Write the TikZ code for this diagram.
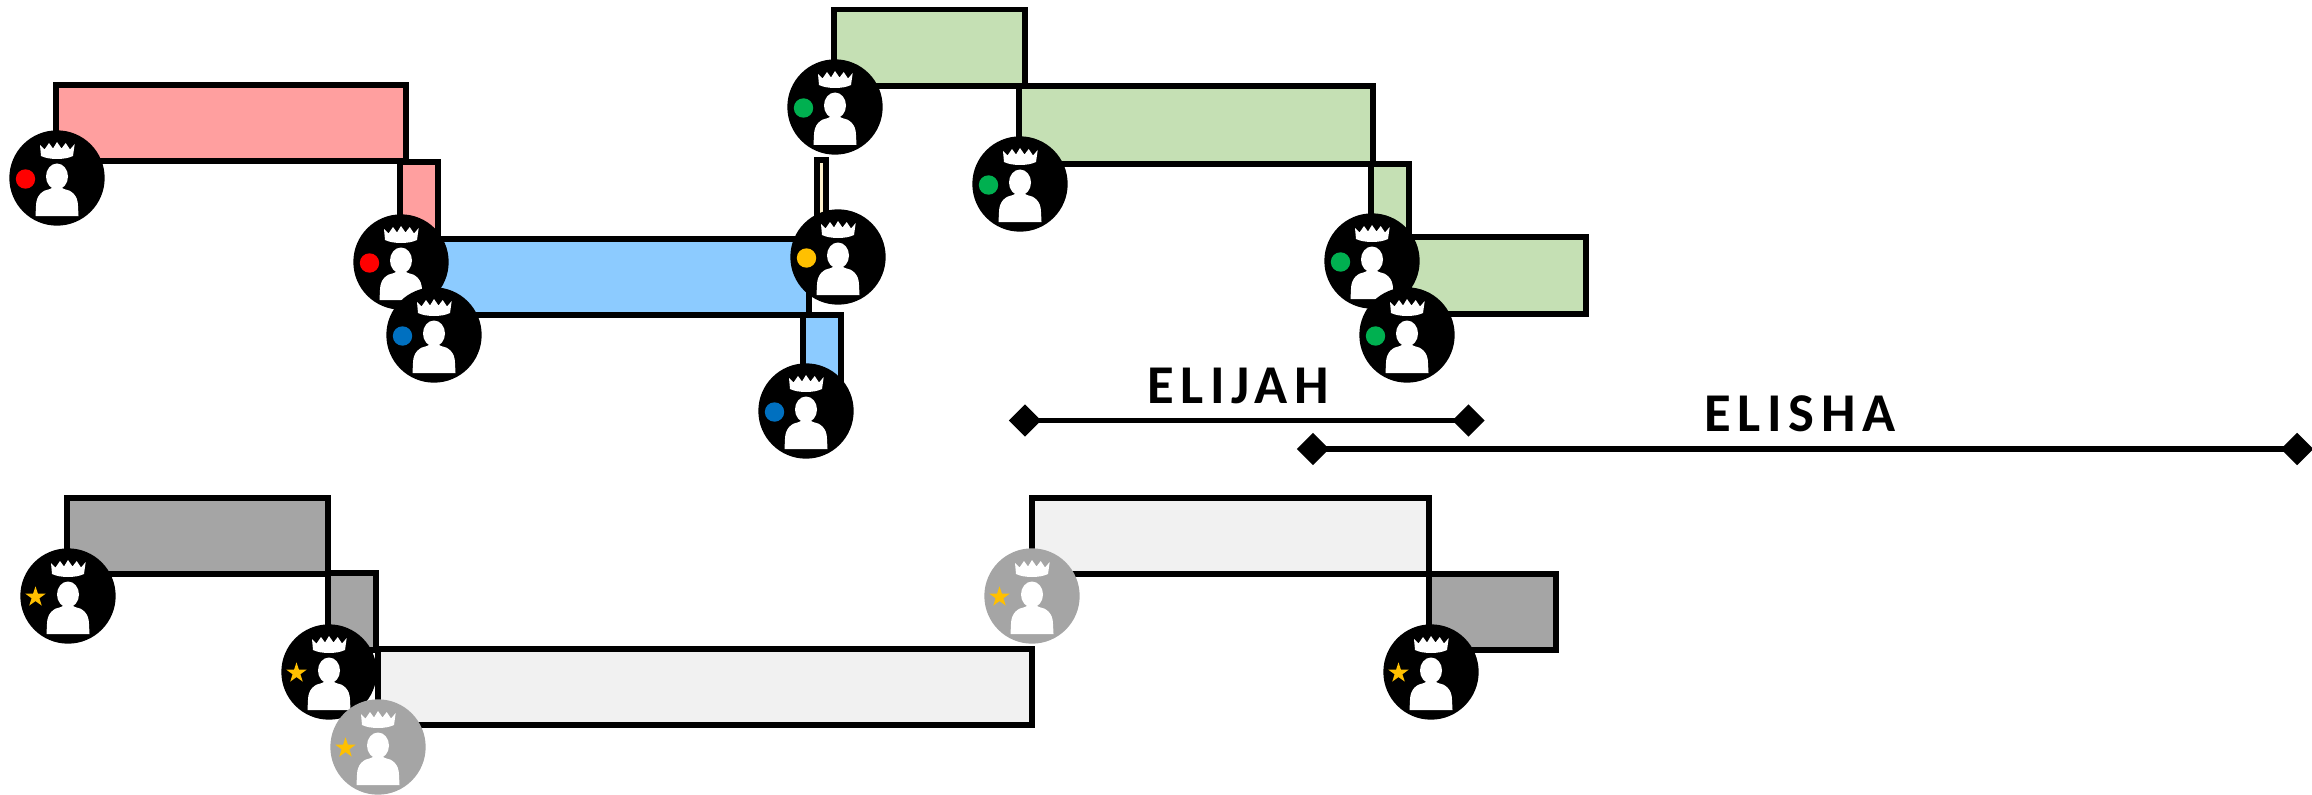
\documentclass[tikz,border=0pt]{standalone}
\usepackage{fontspec}
\setmainfont{Carlito}
\usetikzlibrary{shapes.geometric}
\definecolor{pinkfill}{HTML}{FF9F9F}
\definecolor{bluefill}{HTML}{8CCBFF}
\definecolor{greenfill}{HTML}{C5E0B4}
\definecolor{creamfill}{HTML}{FFF2CC}
\definecolor{palefill}{HTML}{F1F1F1}
\definecolor{midgrey}{HTML}{A5A5A5}
\definecolor{dotred}{HTML}{FF0000}
\definecolor{dotblue}{HTML}{0070C0}
\definecolor{dotgreen}{HTML}{00B050}
\definecolor{dotgold}{HTML}{FFC000}
\tikzset{
  reign/.style={draw=black,line width=4.4pt,miter limit=10},
  kingdisc/.style={circle,inner sep=0pt,minimum size=71.5pt,draw=none},
  enddiamond/.style={diamond,aspect=1,fill=black,inner sep=0pt,minimum size=24.5pt},
  spanline/.style={line width=4.2pt,draw=black},
  prophet/.style={font=\bfseries\fontsize{41}{43}\selectfont\addfontfeature{LetterSpace=12},anchor=base,inner sep=0pt},
}
% name, x, y, disc colour, marker code
\newcommand{\kingicon}[5]{%
  \node[kingdisc,fill=#4] (#1) at (#2,#3) {};
  \begin{scope}[shift={(#2,#3)}]
    \fill[white] (-17,-33) -- (-12.5,-28.5) -- (-8,-35) -- (-4,-29.5) -- (0,-36) -- (4.5,-29.5) -- (8.7,-35) -- (13,-28.5) -- (17.7,-34) -- (16,-22) .. controls (8,-18) and (-8,-18) .. (-16,-22) -- cycle;
    \fill[white] (0,-1.5) ellipse [x radius=11, y radius=13];
    \fill[white] (-21.5,38) -- (-21,28) .. controls (-21,17) and (-14,12) .. (-7,11) .. controls (-4,10) and (-4,8) .. (-5,6) -- (5,6) .. controls (4,8) and (4,10) .. (7,11) .. controls (14,12) and (21,17) .. (21,28) -- (21.5,38) -- cycle;
    #5
  \end{scope}
}
\newcommand{\dotmark}[1]{\fill[#1] (-31.5,1) circle [radius=9.7];}
\newcommand{\starmark}{\node[star,star points=5,star point ratio=2.6,fill=dotgold,inner sep=0pt,minimum size=16pt] at (-32.5,1) {};}
\begin{document}
\begin{tikzpicture}[x=0.75pt,y=-0.75pt]
\useasboundingbox (0,0) rectangle (2312,795);
% red kings
\draw[reign,fill=pinkfill] (400,162) rectangle (438,240);
\draw[reign,fill=pinkfill] (56,85) rectangle (406,161);
% blue kings
\draw[reign,fill=bluefill] (803,315) rectangle (841,395);
\draw[reign,fill=bluefill] (430,239) rectangle (809,315);
\draw[reign,fill=creamfill] (817,160) rectangle (826,240);
% green kings
\draw[reign,fill=greenfill] (1409,237) rectangle (1586,314);
\draw[reign,fill=greenfill] (1371,164) rectangle (1409,238);
\draw[reign,fill=greenfill] (834,9.5) rectangle (1025,86);
\draw[reign,fill=greenfill] (1019,86) rectangle (1373,164);
% lower row
\draw[reign,fill=midgrey] (328,573) rectangle (376,650);
\draw[reign,fill=midgrey] (67,498) rectangle (328,574);
\draw[reign,fill=palefill] (378,649) rectangle (1032,725);
\draw[reign,fill=midgrey] (1429,574) rectangle (1556,650);
\draw[reign,fill=palefill] (1032,498) rectangle (1429,574);
% kings
\kingicon{ka}{57}{178}{black}{\dotmark{dotred}}
\kingicon{kb}{401}{262}{black}{\dotmark{dotred}}
\kingicon{kc}{434}{335}{black}{\dotmark{dotblue}}
\kingicon{kd}{838}{257}{black}{\dotmark{dotgold}}
\kingicon{ke}{806}{411}{black}{\dotmark{dotblue}}
\kingicon{kf}{835}{107}{black}{\dotmark{dotgreen}}
\kingicon{kg}{1020}{184}{black}{\dotmark{dotgreen}}
\kingicon{kh}{1372}{261}{black}{\dotmark{dotgreen}}
\kingicon{ki}{1407}{335}{black}{\dotmark{dotgreen}}
\kingicon{kj}{68}{596}{black}{\starmark}
\kingicon{kk}{329}{672}{black}{\starmark}
\kingicon{kl}{378}{747}{midgrey}{\starmark}
\kingicon{km}{1032}{596}{midgrey}{\starmark}
\kingicon{kn}{1431}{672}{black}{\starmark}
% prophets
\node[enddiamond] (ea) at (1025,420.5) {};
\node[enddiamond] (eb) at (1468.5,420.5) {};
\draw[spanline] (ea.center) -- (eb.center);
\node[enddiamond] (sa) at (1313,449) {};
\node[enddiamond] (sb) at (2297,449) {};
\draw[spanline] (sa.center) -- (sb.center);
\node[prophet] (elijah) at (1238,403) {ELIJAH};
\node[prophet] (elisha) at (1800,431) {ELISHA};
\end{tikzpicture}
\end{document}
